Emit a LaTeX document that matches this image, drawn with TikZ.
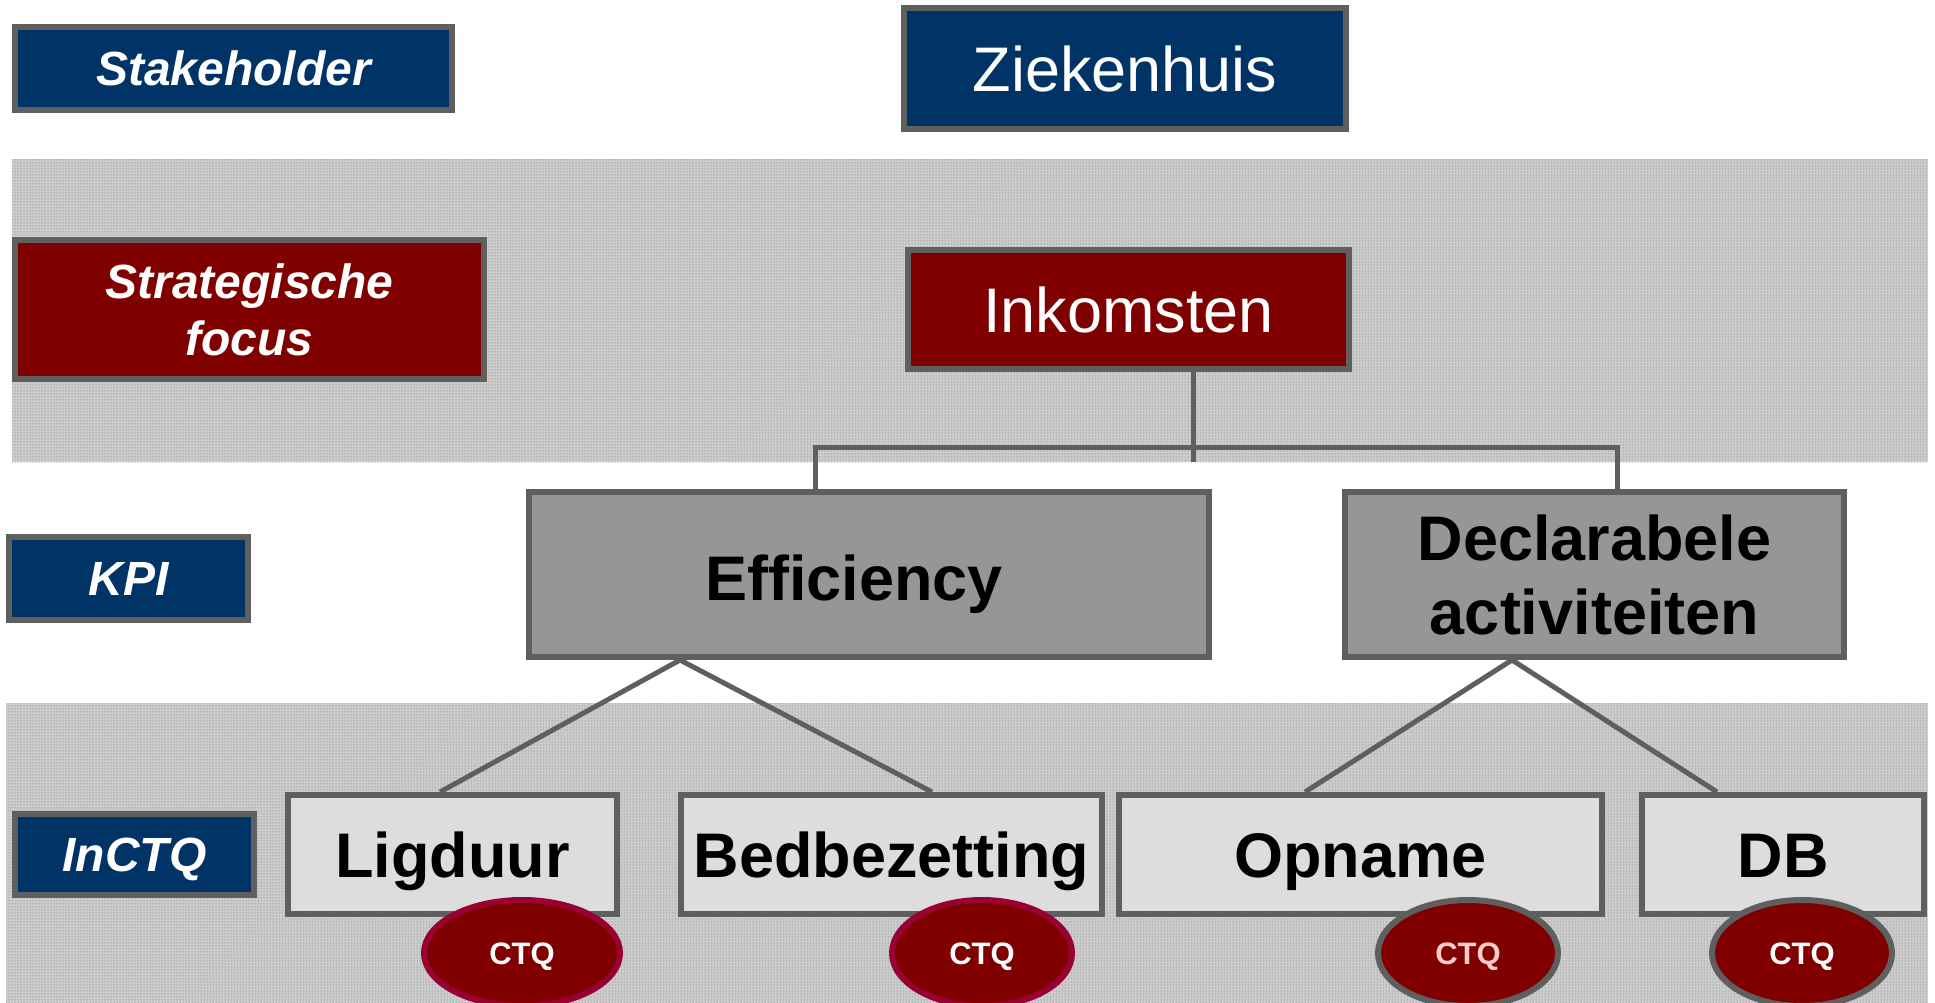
\documentclass[tikz,border=0pt]{standalone}
\usepackage{fontspec}
\setmainfont{Liberation Sans}
\usetikzlibrary{shapes.geometric,patterns}
\definecolor{navy}{RGB}{0,51,102}
\definecolor{dred}{RGB}{128,0,0}
\definecolor{bord}{RGB}{95,95,95}
\definecolor{kpigray}{RGB}{150,150,150}
\definecolor{lgray}{RGB}{221,221,221}
\definecolor{crim}{RGB}{153,0,51}
\definecolor{pinkt}{RGB}{255,204,204}
\definecolor{bandfill}{RGB}{205,205,205}
\definecolor{banddot}{RGB}{100,100,100}
\begin{document}
\begin{tikzpicture}[x=1pt,y=-1pt,
  box/.style={rectangle, draw=bord, line width=6pt, inner sep=0pt, align=center},
  lab/.style={box, fill=navy, text=white, font=\fontsize{48}{57}\selectfont\bfseries\itshape},
  labred/.style={lab, fill=dred},
  topbox/.style={box, text=white, font=\fontsize{63}{72}\selectfont},
  kpibox/.style={box, fill=kpigray, text=black, font=\fontsize{63}{74}\selectfont\bfseries},
  ctqbox/.style={box, fill=lgray, text=black, font=\fontsize{63}{72}\selectfont\bfseries},
  ctq/.style={ellipse, fill=dred, line width=6pt, inner sep=0pt, text=white,
              minimum height=106pt, font=\fontsize{31}{36}\selectfont\bfseries,
              text height=22.2pt, text depth=0pt},
  caps/.style={text height=45.1pt, text depth=0pt},
  capsm/.style={text height=34.4pt, text depth=0pt},
  conn/.style={draw=bord, line width=5pt, line join=miter},
  band/.style={fill=bandfill}
]
\useasboundingbox (0,0) rectangle (1935,1003);
\fill[white] (0,0) rectangle (1935,1003);

% bands
\fill[band] (12,159) rectangle (1928,462);
\fill[pattern=dots, pattern color=banddot] (12,159) rectangle (1928,462);
\fill[band] (6,703) rectangle (1928,1003);
\fill[pattern=dots, pattern color=banddot] (6,703) rectangle (1928,1003);

% top row
\node[lab, capsm, minimum width=437pt, minimum height=83pt] (stake) at (233.5,68.5) {Stakeholder};
\node[topbox, caps, fill=navy, minimum width=442pt, minimum height=121pt] (zk) at (1125,68.5) {Ziekenhuis};

% strategic row
\node[labred, minimum width=469pt, minimum height=139pt] (strat) at (249.5,309.5) {Strategische\\focus};
\node[topbox, caps, fill=dred, minimum width=441pt, minimum height=119pt] (ink) at (1128.5,309.5) {Inkomsten};

% KPI row
\node[lab, capsm, minimum width=239pt, minimum height=83pt] (kpi) at (128.5,578.5) {KPI};
\node[kpibox, text height=51.1pt, text depth=0pt, minimum width=680pt, minimum height=165pt] (eff) at (869,574.5) {Efficiency\hspace*{30pt}};
\node[kpibox, minimum width=499pt, minimum height=165pt] (dec) at (1594.5,574.5) {Declarabele\\activiteiten};

% InCTQ row
\node[lab, capsm, minimum width=239pt, minimum height=81pt] (inctq) at (134.5,854.5) {InCTQ};
\node[ctqbox, caps, minimum width=329pt, minimum height=119pt] (lig) at (452.5,854.5) {Ligduur};
\node[ctqbox, caps, minimum width=421pt, minimum height=119pt] (bed) at (891.5,854.5) {Bedbezetting};
\node[ctqbox, caps, minimum width=483pt, minimum height=119pt] (opn) at (1360.5,854.5) {Opname};
\node[ctqbox, caps, minimum width=282pt, minimum height=119pt] (db) at (1783,854.5) {DB};

% connector helper coordinates
\coordinate (j0) at (1193,462);
\coordinate (hl) at (815,447);
\coordinate (hr) at (1617,447);
\coordinate (ea) at (680,0);
\coordinate (da) at (1512,0);
\coordinate (lt) at (440,0);
\coordinate (bt) at (932,0);
\coordinate (ot) at (1305,0);
\coordinate (dt) at (1717,0);

% connectors
\draw[conn] (ink.south -| j0) -- (j0);
\draw[conn] (eff.north -| hl) -- (hl) -- (hr) -- (dec.north -| hr);
\draw[conn] (lig.north -| lt) -- (eff.south -| ea) -- (bed.north -| bt);
\draw[conn] (opn.north -| ot) -- (dec.south -| da) -- (db.north -| dt);

% CTQ ellipses
\node[ctq, draw=crim, minimum width=196pt] (c1) at (522,953) {CTQ};
\node[ctq, draw=crim, minimum width=180pt] (c2) at (982,953) {CTQ};
\node[ctq, draw=bord, minimum width=180pt, text=pinkt] (c3) at (1468,953) {CTQ};
\node[ctq, draw=bord, minimum width=180pt] (c4) at (1802,953) {CTQ};
\end{tikzpicture}
\end{document}
